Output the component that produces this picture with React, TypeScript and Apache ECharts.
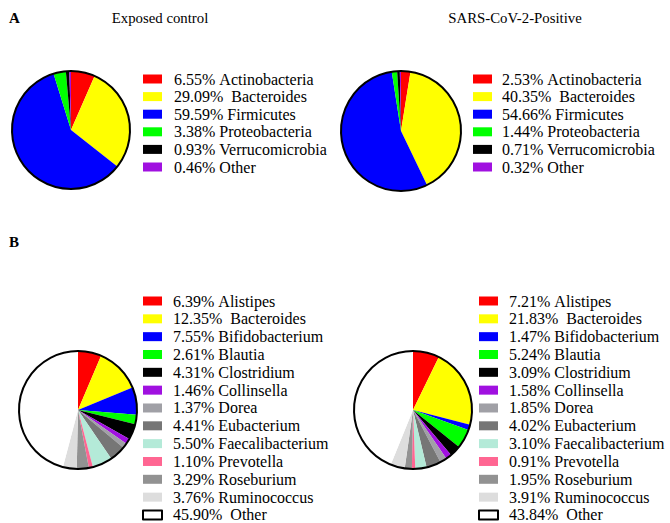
import React, { useEffect, useRef } from "react";
import * as echarts from "echarts";

const phylumNames = ["Actinobacteria", "Bacteroides", "Firmicutes", "Proteobacteria", "Verrucomicrobia", "Other"];
const phylumColors = ["#ff0000", "#ffff00", "#0000ff", "#00ff00", "#000000", "#a010e0"];
const exposedPhylum = [6.55, 29.09, 59.59, 3.38, 0.93, 0.46];
const positivePhylum = [2.53, 40.35, 54.66, 1.44, 0.71, 0.32];

const genusNames = [
  "Alistipes", "Bacteroides", "Bifidobacterium", "Blautia", "Clostridium", "Collinsella",
  "Dorea", "Eubacterium", "Faecalibacterium", "Prevotella", "Roseburium", "Ruminococcus", "Other",
];
const genusColors = [
  "#ff0000", "#ffff00", "#0000ff", "#00ff00", "#000000", "#a010e0",
  "#a0a0a6", "#767676", "#b4ead8", "#ff6692", "#929292", "#dddddd", "#ffffff",
];
const exposedGenus = [6.39, 12.35, 7.55, 2.61, 4.31, 1.46, 1.37, 4.41, 5.5, 1.1, 3.29, 3.76, 45.9];
const positiveGenus = [7.21, 21.83, 1.47, 5.24, 3.09, 1.58, 1.85, 4.02, 3.1, 0.91, 1.95, 3.91, 43.84];

const panelTitles = ["A", "B"];
const groupTitles = ["Exposed control", "SARS-CoV-2-Positive"];
const wideGapNames = ["Bacteroides"];
const wideGapGenus = ["Bacteroides", "Other"];

const FONT = "Liberation Serif";

function makePie(id: string, names: string[], values: number[], colors: string[], center: number[], r: number) {
  return [
    {
      type: "pie",
      id,
      name: id,
      center,
      radius: [0, r],
      startAngle: 90,
      clockwise: true,
      label: { show: false },
      labelLine: { show: false },
      emphasis: { disabled: true },
      itemStyle: { borderWidth: 0 },
      data: names.map((n, i) => ({ name: n, value: values[i], itemStyle: { color: colors[i] } })),
    },
    {
      type: "pie",
      id: id + "-outline",
      center,
      radius: [0, r],
      silent: true,
      z: 5,
      label: { show: false },
      labelLine: { show: false },
      emphasis: { disabled: true },
      itemStyle: { color: "rgba(0,0,0,0)", borderColor: "#000", borderWidth: 2 },
      data: [{ name: "__outline", value: 1 }],
    },
  ];
}

function makeLegend(
  names: string[], values: number[], left: number, top: number, gap: number, pad: number,
  wide: string[], otherWhite: boolean,
) {
  return {
    orient: "vertical",
    left,
    top,
    padding: 0,
    itemGap: gap,
    itemWidth: 19,
    itemHeight: 9,
    icon: "rect",
    selectedMode: false,
    textStyle: { fontFamily: FONT, fontSize: 16, color: "#000", lineHeight: 16, padding: [0, 0, 0, pad] },
    data: names.map((n) =>
      otherWhite && n === "Other"
        ? { name: n, itemStyle: { color: "#ffffff", borderColor: "#000", borderWidth: 2 } }
        : { name: n }
    ),
    formatter: (name: string) => {
      const i = names.indexOf(name);
      const sep = wide.includes(name) ? "\u00a0\u00a0" : "\u00a0";
      return `${values[i].toFixed(2)}%${sep}${name}`;
    },
  };
}

export default function App() {
  const ref = useRef<HTMLDivElement>(null);
  useEffect(() => {
    document.body.style.margin = "0";
    if (!ref.current) return;
    const chart = echarts.init(ref.current, null, { renderer: "svg" });
    const titleStyle = (bold: boolean) => ({
      fontFamily: FONT, fontSize: bold ? 15 : 14.8, fontWeight: bold ? "bold" : "normal", fill: "#000", verticalAlign: "middle",
    });
    chart.setOption({
      animation: false,
      backgroundColor: "#ffffff",
      legend: [
        makeLegend(phylumNames, exposedPhylum, 143, 71, 1.6, 7, wideGapNames, false),
        makeLegend(phylumNames, positivePhylum, 473, 71, 1.6, 5, wideGapNames, false),
        makeLegend(genusNames, exposedGenus, 142, 293, 1.83, 6, wideGapGenus, true),
        makeLegend(genusNames, positiveGenus, 478, 293, 1.83, 6, wideGapGenus, true),
      ],
      graphic: [
        { type: "text", x: 9, y: 17.5, style: { text: panelTitles[0], ...titleStyle(true) } },
        { type: "text", x: 9, y: 242, style: { text: panelTitles[1], ...titleStyle(true) } },
        { type: "text", x: 160, y: 17.5, style: { text: groupTitles[0], ...titleStyle(false), align: "center" } },
        { type: "text", x: 515, y: 17.5, style: { text: groupTitles[1], ...titleStyle(false), align: "center" } },
      ],
      series: [
        ...makePie("exposed-phylum", phylumNames, exposedPhylum, phylumColors, [71, 130], 59),
        ...makePie("positive-phylum", phylumNames, positivePhylum, phylumColors, [401, 131], 60),
        ...makePie("exposed-genus", genusNames, exposedGenus, genusColors, [78, 410], 59),
        ...makePie("positive-genus", genusNames, positiveGenus, genusColors, [413, 410], 59),
      ],
    });
    return () => chart.dispose();
  }, []);
  return <div ref={ref} style={{ width: 670, height: 523 }} />;
}
